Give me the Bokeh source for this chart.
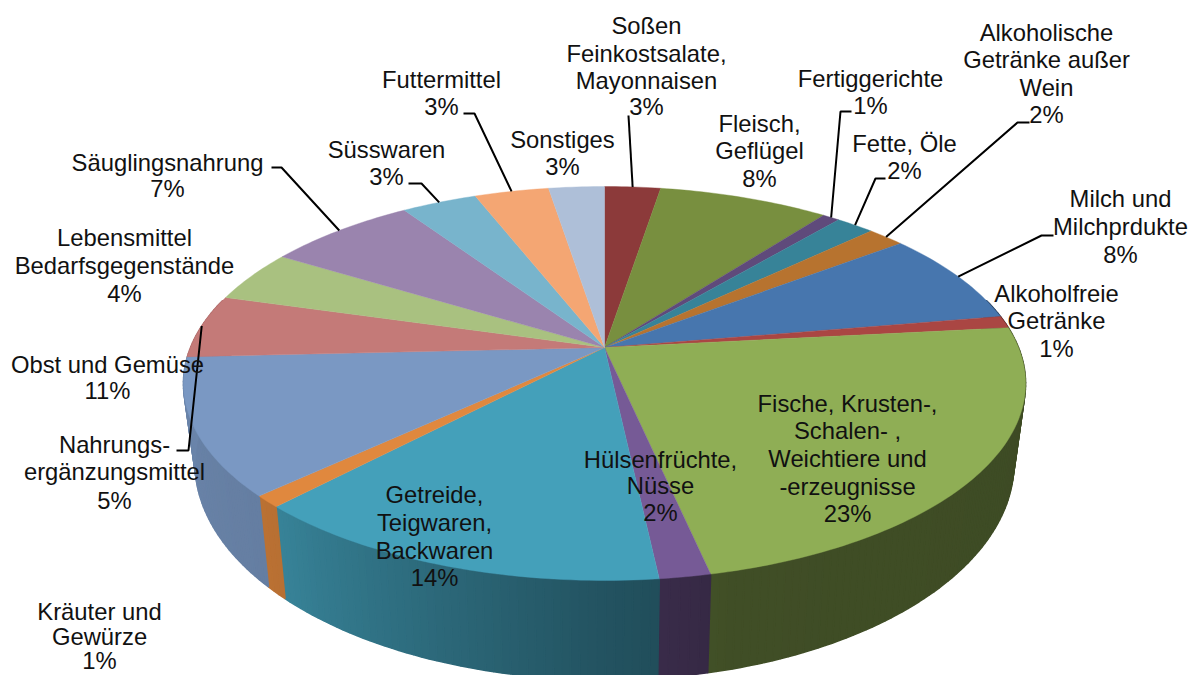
import numpy as np
from bokeh.plotting import figure
from bokeh.embed import file_html
from bokeh.resources import INLINE
from bokeh.models import Range1d
from bokeh.core.properties import value

# ---- data ----
categories = ["Soßen Feinkostsalate, Mayonnaisen", "Fleisch, Geflügel", "Fertiggerichte", "Fette, Öle",
              "Alkoholische Getränke außer Wein", "Milch und Milchprdukte", "Alkoholfreie Getränke",
              "Fische, Krusten-, Schalen- , Weichtiere und -erzeugnisse", "Hülsenfrüchte, Nüsse",
              "Getreide, Teigwaren, Backwaren", "Kräuter und Gewürze", "Obst und Gemüse",
              "Nahrungs-ergänzungsmittel", "Lebensmittel Bedarfsgegenstände", "Säuglingsnahrung",
              "Süsswaren", "Futtermittel", "Sonstiges"]
shares = [2.56, 7.80, 0.78, 1.76, 1.70, 7.70, 1.00, 23.30, 1.65, 13.80, 0.95, 11.20, 5.20, 4.30, 6.85, 3.45, 3.40, 2.55]
colors = ["#8C3A3A", "#788F3F", "#5F4A7B", "#378398", "#B7732F", "#4776AE", "#AA4643", "#8FAE55", "#765A96",
          "#44A0BA", "#E0883E", "#7A98C3", "#C47A78", "#A9C180", "#9A84AE", "#78B4CC", "#F4A673", "#AEBFD8"]

# ---- label layout: (centre x, [(line, y), ...]) ----
labels = [
    (646, [("Soßen", 25), ("Feinkostsalate,", 53), ("Mayonnaisen", 80), ("3%", 106)]),
    (759, [("Fleisch,", 123), ("Geflügel", 150), ("8%", 178)]),
    (870, [("Fertiggerichte", 78), ("1%", 105)]),
    (904, [("Fette, Öle", 143), ("2%", 170)]),
    (1046, [("Alkoholische", 32), ("Getränke außer", 59), ("Wein", 87), ("2%", 114)]),
    (1120, [("Milch und", 198), ("Milchprdukte", 226), ("8%", 254)]),
    (1056, [("Alkoholfreie", 293), ("Getränke", 320), ("1%", 348)]),
    (847, [("Fische, Krusten-,", 403), ("Schalen- ,", 430), ("Weichtiere und", 458), ("-erzeugnisse", 486), ("23%", 513)]),
    (660, [("Hülsenfrüchte,", 459), ("Nüsse", 485), ("2%", 512)]),
    (434, [("Getreide,", 494), ("Teigwaren,", 522), ("Backwaren", 550), ("14%", 577)]),
    (99, [("Kräuter und", 611), ("Gewürze", 636), ("1%", 660)]),
    (107, [("Obst und Gemüse", 364), ("11%", 390)]),
    (114, [("Nahrungs-", 444), ("ergänzungsmittel", 471), ("5%", 500)]),
    (124, [("Lebensmittel", 237), ("Bedarfsgegenstände", 265), ("4%", 293)]),
    (167, [("Säuglingsnahrung", 162), ("7%", 188)]),
    (386, [("Süsswaren", 149), ("3%", 176)]),
    (441, [("Futtermittel", 79), ("3%", 106)]),
    (562, [("Sonstiges", 139), ("3%", 166)]),
]
# leader: slice index -> elbow points
leaders = {
    0: [(628, 115)],
    2: [(851, 111), (840, 111)],
    3: [(885, 178), (875, 178)],
    4: [(1029, 122), (1017, 122)],
    5: [(1053, 235), (1041, 235)],
    12: [(176, 450), (188, 450)],
    14: [(271, 167), (281, 167)],
    15: [(408, 183), (421, 183)],
    16: [(463, 113), (474, 113)],
}

# ---- projection ----
CX, CY, RX, RY, K = 604.0, 347.0, 414.0, 190.4, 0.1827
SX, SY, DEPTH = 0.9725, 1.10, 76.0

def top(t):
    u, v = np.sin(t), np.cos(t)
    w = 1 + K * v
    return CX + RX * u / w, CY - RY * v / w

def bottom(t):
    x, y = top(t)
    return CX + (x - CX) * SX, CY + (y - CY) * SY + DEPTH

def shade(t):
    return np.interp(np.degrees(t), [90, 165, 180, 225, 270], [0.43, 0.45, 0.52, 0.83, 0.88])

def scale_hex(c, f):
    r, g, b = [int(c[i:i + 2], 16) for i in (1, 3, 5)]
    return "#%02x%02x%02x" % (int(r * f), int(g * f), int(b * f))

edges = np.concatenate([[0], np.cumsum(shares)]) / np.sum(shares) * 2 * np.pi

p = figure(width=1192, height=675, x_range=Range1d(0, 1192), y_range=Range1d(675, 0),
           output_backend="svg", toolbar_location=None, min_border=0, outline_line_color=None,
           background_fill_color="white", border_fill_color="white")
p.axis.visible = False
p.grid.visible = False

# side wall
sx, sy, sc = [], [], []
for i, c in enumerate(colors):
    a, b = edges[i], edges[i + 1]
    lo, hi = max(a, np.radians(75)), min(b, np.radians(285))
    if hi <= lo:
        continue
    n = max(2, int(np.degrees(hi - lo) / 1.0))
    ts = np.linspace(lo, hi, n + 1)
    for t0, t1 in zip(ts[:-1], ts[1:]):
        x0, y0 = top(t0); x1, y1 = top(t1)
        x3, y3 = bottom(t0); x2, y2 = bottom(t1)
        sx.append([x0, x1, x2, x3]); sy.append([y0, y1, y2, y3])
        sc.append(scale_hex(c, shade((t0 + t1) / 2)))
p.patches(sx, sy, fill_color=sc, line_color=sc, line_width=1.5)

# top face
tx, ty = [], []
for i in range(len(shares)):
    ts = np.linspace(edges[i], edges[i + 1], max(3, int(np.degrees(edges[i + 1] - edges[i])) + 2))
    x, y = top(ts)
    tx.append([CX] + list(x)); ty.append([CY] + list(y))
p.patches(tx, ty, fill_color=colors, line_color=colors, line_width=0.4)

# leader lines, ending on the slice's outer rim
for i, pts in leaders.items():
    xr, yr = top((edges[i] + edges[i + 1]) / 2)
    p.line([q[0] for q in pts] + [xr], [q[1] for q in pts] + [yr], line_color="black", line_width=2)

# labels
lx, ly, lt = [], [], []
for cx, rows in labels:
    for s, y in rows:
        lx.append(cx); ly.append(y); lt.append(s)
p.text(lx, ly, text=lt, text_font=value("Liberation Sans"), text_font_size="23.8px", text_color="#111111",
       text_align="center", text_baseline="middle")

open("out.html", "w").write(file_html(p, INLINE))
